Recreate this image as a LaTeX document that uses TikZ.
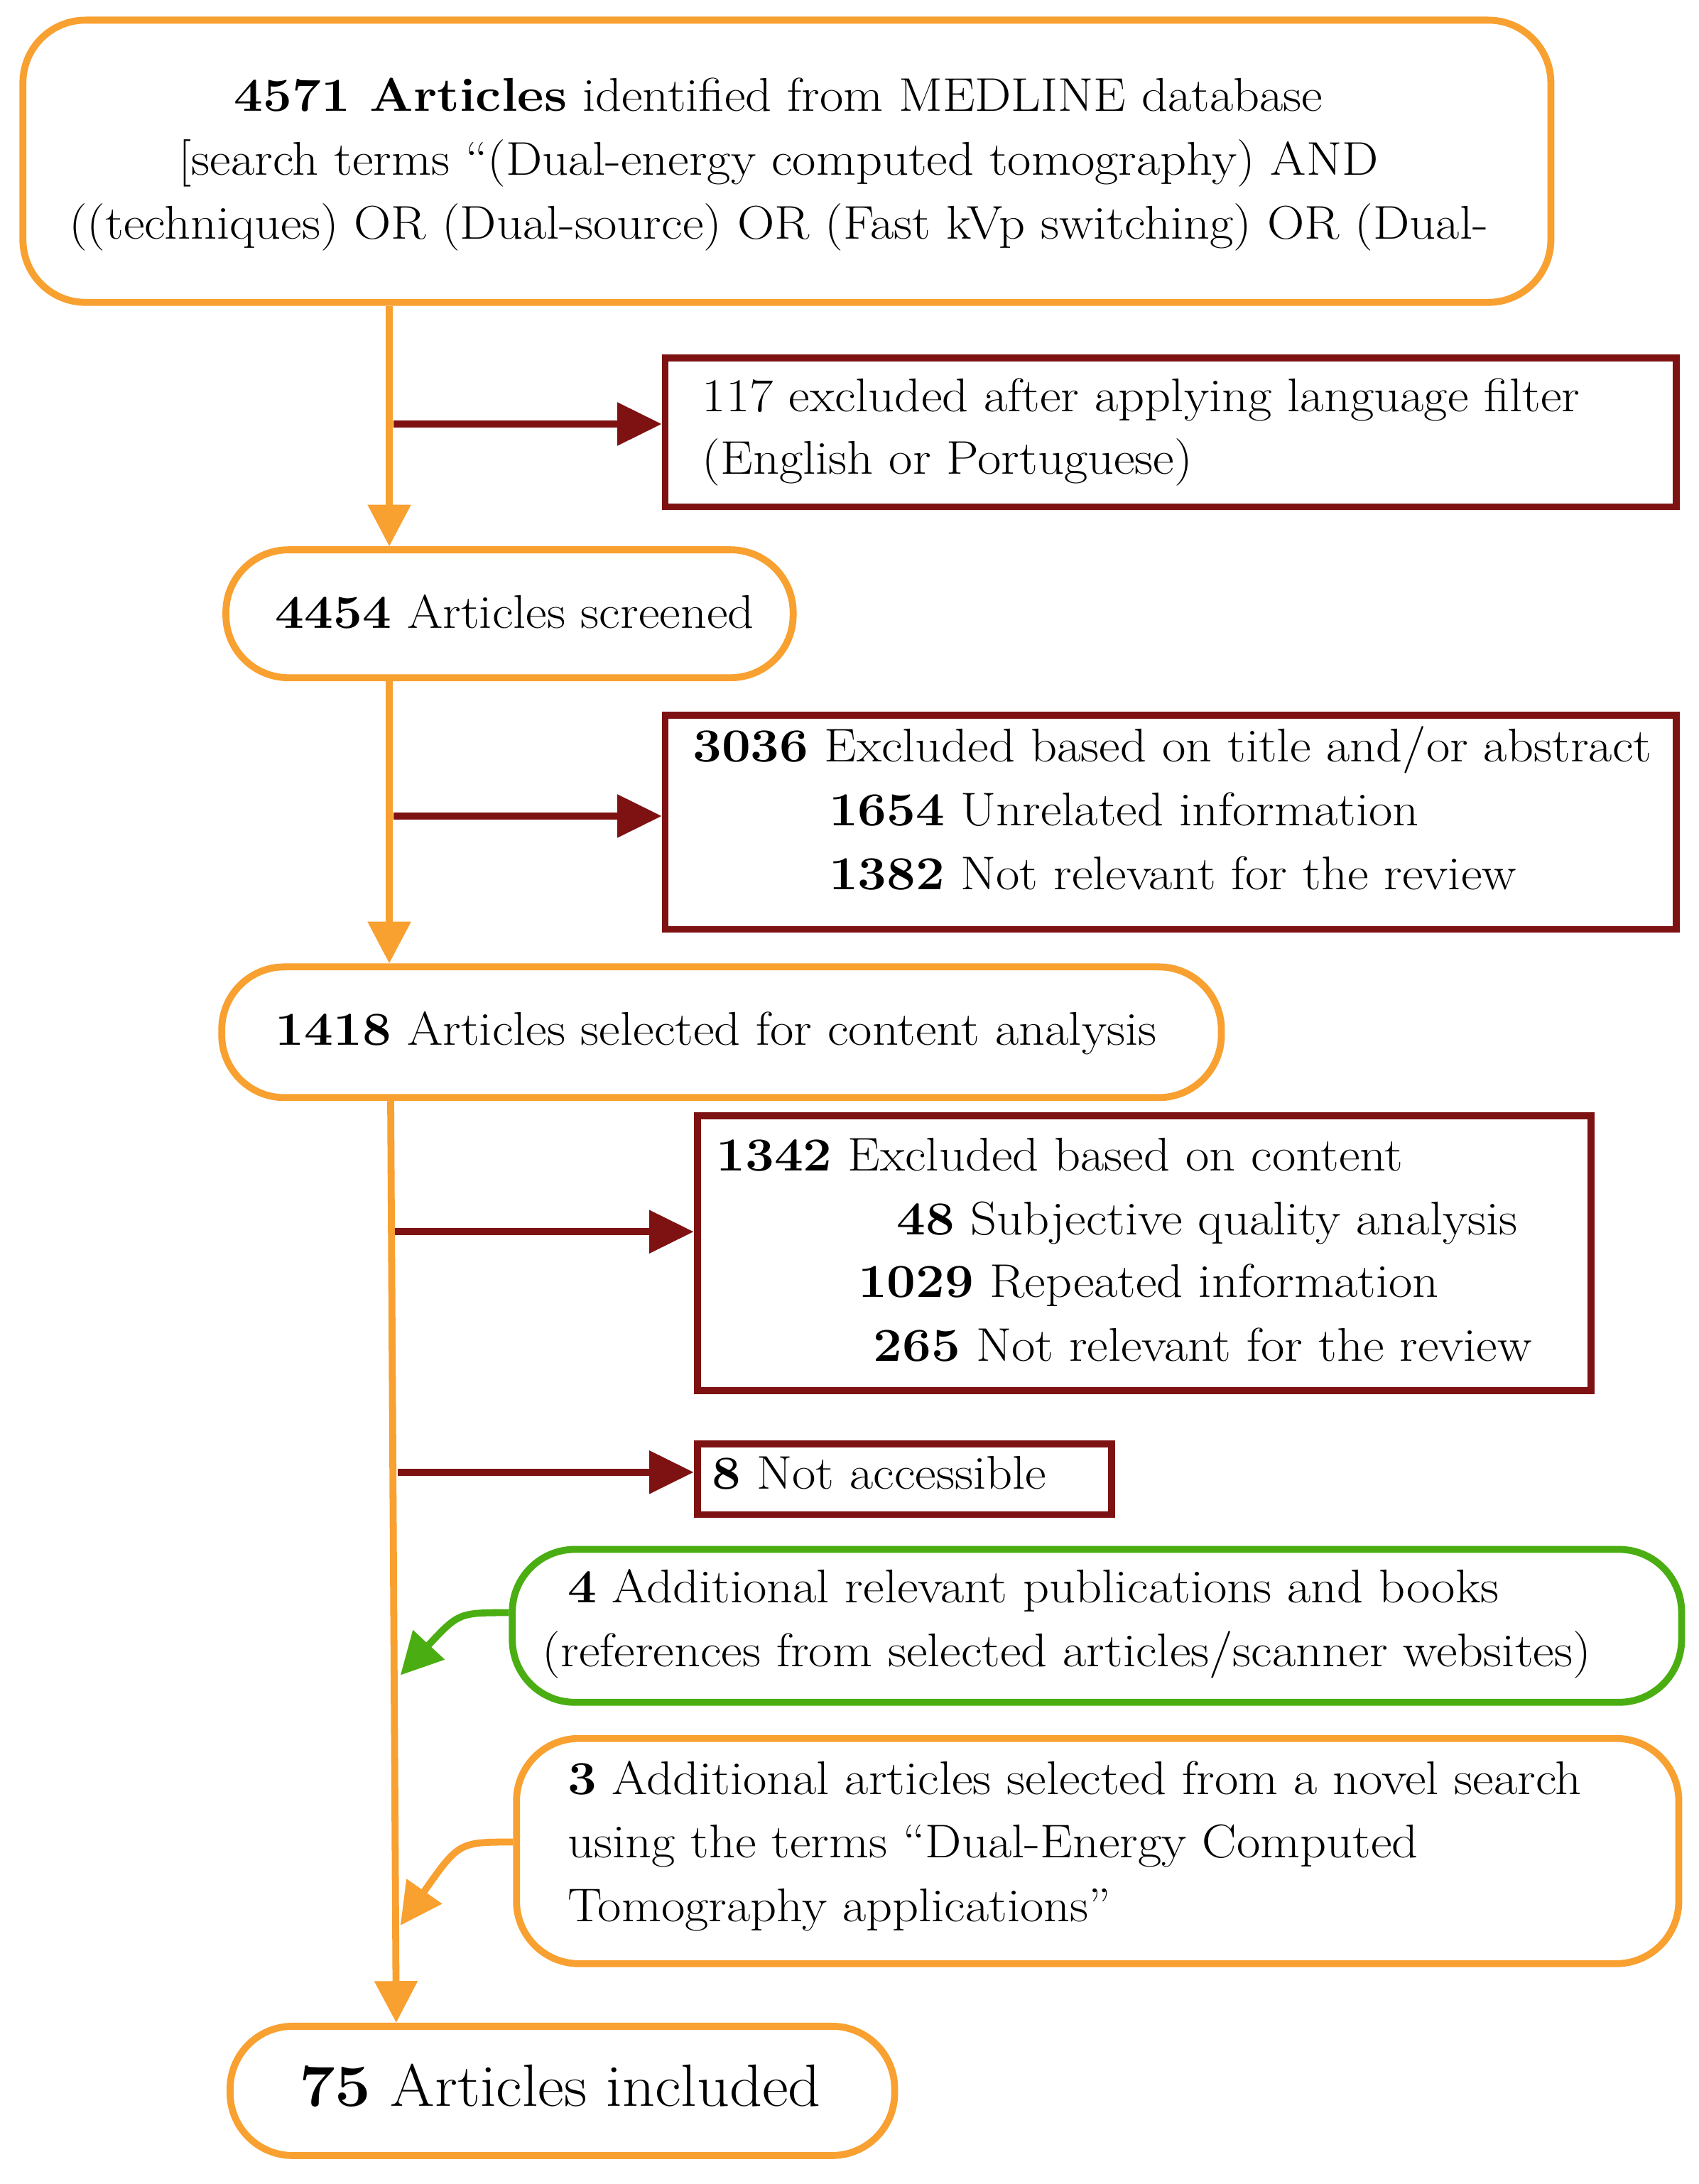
\documentclass[tikz,border=0pt]{standalone}
\usetikzlibrary{arrows.meta}
\definecolor{org}{HTML}{F8A030}
\definecolor{dred}{HTML}{7E1212}
\definecolor{grn}{HTML}{4AAE12}
\begin{document}
\begin{tikzpicture}[x=1pt,y=1pt,
  obox/.style={draw=org,line width=5pt,rounded corners=45pt,anchor=north west,inner sep=0},
  rbox/.style={draw=dred,line width=5pt,anchor=north west,inner sep=0},
  gbox/.style={draw=grn,line width=5pt,rounded corners=45pt,anchor=north west,inner sep=0},
  txt/.style={anchor=base west,inner sep=0,font=\fontsize{34}{40}\selectfont,xscale=1.09,transform shape},
  oline/.style={draw=org,line width=5pt},
  oarr/.style={draw=org,line width=5pt,-{Triangle[length=30pt,width=30pt]}},
  rarr/.style={draw=dred,line width=5pt,-{Triangle[length=32pt,width=30pt]}},
  garr/.style={draw=grn,line width=5pt,-{Triangle[length=30pt,width=30pt]}}]
\useasboundingbox (0,0) rectangle (1222,-1571);
\node[obox,minimum width=1099pt,minimum height=203pt] (top) at (14,-12) {};
\node[txt,anchor=base] (t1) at (560,-80) {\textbf{4571 Articles} identified from MEDLINE database};
\node[txt,anchor=base] (t2) at (560,-126) {[search terms ``(Dual-energy computed tomography) AND};
\node[txt,anchor=base] (t3) at (560,-172) {((techniques) OR (Dual-source) OR (Fast kVp switching) OR (Dual-};
\node[rbox,minimum width=727pt,minimum height=107pt] (r1) at (476,-255) {};
\node[txt] (r1a) at (505,-296) {117 excluded after applying language filter};
\node[txt] (r1b) at (505,-341) {(English or Portuguese)};
\node[obox,minimum width=408pt,minimum height=92pt] (s) at (160,-393) {};
\node[txt] (sa) at (198,-452) {\textbf{4454} Articles screened};
\node[rbox,minimum width=727pt,minimum height=154pt] (r2) at (476,-512) {};
\node[txt] (r2a) at (498,-548) {\textbf{3036} Excluded based on title and/or abstract};
\node[txt] (r2b) at (596,-594) {\textbf{1654} Unrelated information};
\node[txt] (r2c) at (596,-640) {\textbf{1382} Not relevant for the review};
\node[obox,minimum width=719pt,minimum height=94pt] (c) at (157,-693) {};
\node[txt] (ca) at (198,-752) {\textbf{1418} Articles selected for content analysis};
\node[rbox,minimum width=643pt,minimum height=198pt] (r3) at (499,-800) {};
\node[txt] (r3a) at (515,-842) {\textbf{1342} Excluded based on content};
\node[txt] (r3b) at (645,-888) {\textbf{48} Subjective quality analysis};
\node[txt] (r3c) at (617,-933) {\textbf{1029} Repeated information};
\node[txt] (r3d) at (628,-979) {\textbf{265} Not relevant for the review};
\node[rbox,minimum width=298pt,minimum height=51pt] (r4) at (499,-1036) {};
\node[txt] (r4a) at (512,-1071) {\textbf{8} Not accessible};
\node[gbox,minimum width=841pt,minimum height=110pt] (g) at (366,-1112) {};
\node[txt] (ga) at (408,-1153) {\textbf{4} Additional relevant publications and books};
\node[txt] (gb) at (390,-1199) {(references from selected articles/scanner websites)};
\node[obox,minimum width=836pt,minimum height=162pt] (n) at (369,-1248) {};
\node[txt] (na) at (408,-1291) {\textbf{3} Additional articles selected from a novel search};
\node[txt] (nb) at (408,-1336) {using the terms ``Dual-Energy Computed};
\node[txt] (nc) at (408,-1382) {Tomography applications''};
\node[obox,minimum width=478pt,minimum height=93pt] (f) at (163,-1455) {};
\node[anchor=base west,inner sep=0,font=\fontsize{43}{48}\selectfont,xscale=1.07,transform shape] (fa) at (215,-1515) {\textbf{75} Articles included};
% trunk
\draw[oarr] (280,0 |- top.south) -- (280,0 |- s.north);
\draw[oarr] (280,0 |- s.south) -- (280,0 |- c.north);
\draw[oarr] (281,0 |- c.south) -- (285,0 |- f.north);
% red arrows
\draw[rarr] (283,-305) -- (r1.west |- 0,-305);
\draw[rarr] (283,-587) -- (r2.west |- 0,-587);
\draw[rarr] (284,-886) -- (r3.west |- 0,-886);
\draw[rarr] (286,-1059) -- (r4.west |- 0,-1059);
\draw[garr] (g.west |- 0,-1160) .. controls (330,-1160) .. (288,-1205);
\draw[oarr] (n.west |- 0,-1325) .. controls (330,-1325) .. (288,-1385);
\end{tikzpicture}
\end{document}
